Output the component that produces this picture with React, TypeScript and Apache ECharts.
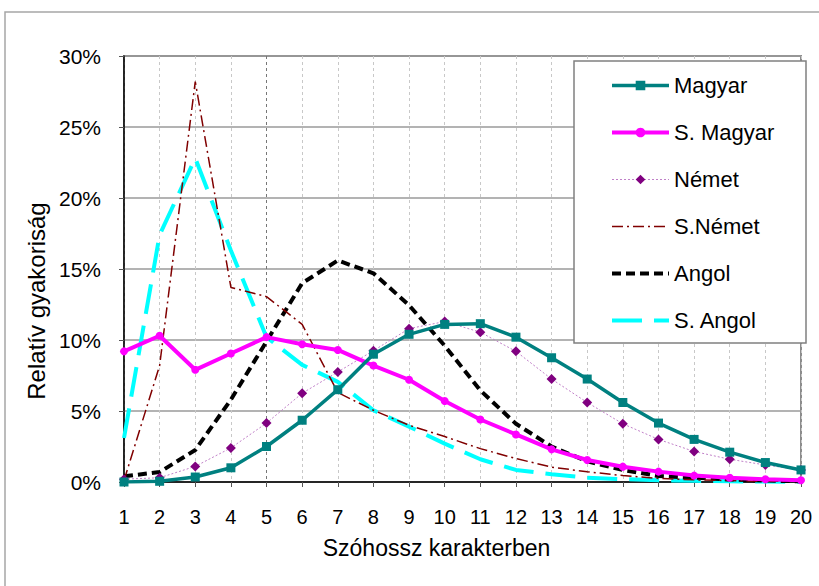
import React, { useEffect, useRef } from "react";
import * as echarts from "echarts";

// Word length in characters
const lengths = ["1", "2", "3", "4", "5", "6", "7", "8", "9", "10", "11", "12", "13", "14", "15", "16", "17", "18", "19", "20"];

// Relative frequency (%) per word length
const magyar = [0.0, 0.05, 0.35, 1.0, 2.5, 4.35, 6.5, 9.0, 10.4, 11.1, 11.15, 10.2, 8.75, 7.25, 5.6, 4.15, 3.0, 2.1, 1.37, 0.85];
const sMagyar = [9.2, 10.3, 7.9, 9.05, 10.2, 9.7, 9.3, 8.2, 7.2, 5.7, 4.4, 3.35, 2.3, 1.55, 1.08, 0.73, 0.45, 0.3, 0.19, 0.12];
const nemet = [0.2, 0.3, 1.1, 2.4, 4.15, 6.25, 7.75, 9.25, 10.8, 11.3, 10.55, 9.2, 7.25, 5.6, 4.1, 3.0, 2.15, 1.6, 1.2, 0.85];
const sNemet = [0.1, 8.2, 28.2, 13.7, 13.05, 11.1, 6.3, 5.05, 4.0, 3.2, 2.35, 1.65, 1.05, 0.72, 0.45, 0.25, 0.15, 0.1, 0.05, 0.05];
const angol = [0.4, 0.7, 2.25, 5.8, 9.9, 14.0, 15.6, 14.7, 12.45, 9.6, 6.45, 4.1, 2.5, 1.45, 0.85, 0.42, 0.3, 0.18, 0.1, 0.05];
const sAngol = [3.1, 17.4, 22.8, 16.3, 10.2, 8.25, 7.05, 5.05, 3.9, 2.7, 1.6, 0.85, 0.55, 0.3, 0.2, 0.12, 0.08, 0.05, 0.03, 0.02];

const yTicks = { min: 0, max: 30, interval: 5 };

const FONT = "'Liberation Sans', Arial, sans-serif";

export default function App() {
  const ref = useRef<HTMLDivElement>(null);

  useEffect(() => {
    if (!ref.current) return;
    const chart = echarts.init(ref.current, null, { renderer: "svg" });

    const vGridColors = lengths.map((_, i) => (i === 4 ? "#777777" : "#c8c8c8"));
    // line-only series: hide the legend's marker, keep its line sample
    const noMarker = { itemStyle: { opacity: 0 } };

    chart.setOption({
      animation: false,
      backgroundColor: "#ffffff",
      textStyle: { fontFamily: FONT, color: "#000" },
      grid: {
        left: 124,
        right: 18,
        top: 56,
        bottom: 104,
        show: true,
        borderColor: "#8c8c8c",
        borderWidth: 2,
        backgroundColor: "transparent",
      },
      graphic: [
        {
          type: "rect",
          shape: { x: 5, y: 12, width: 830, height: 600 },
          style: { fill: "none", stroke: "#a6a6a6", lineWidth: 1.5 },
          silent: true,
          z: -1,
        },
        {
          type: "rect",
          shape: { x: 574, y: 61, width: 232, height: 282 },
          style: { fill: "#ffffff", stroke: "#808080", lineWidth: 1.5 },
          silent: true,
          z: 50,
        },
      ],
      legend: {
        orient: "vertical",
        left: 610,
        top: 73,
        padding: 0,
        itemWidth: 57,
        itemHeight: 12,
        itemGap: 22,
        z: 60,
        textStyle: { fontFamily: FONT, fontSize: 22, color: "#000", lineHeight: 25 },
        lineStyle: { width: "inherit", type: "inherit" },
        data: [
          { name: "Magyar" },
          { name: "S. Magyar" },
          { name: "Német" },
          { name: "S.Német", ...noMarker },
          { name: "Angol", ...noMarker },
          { name: "S. Angol", ...noMarker },
        ],
      },
      xAxis: {
        type: "category",
        data: lengths,
        boundaryGap: false,
        name: "Szóhossz karakterben",
        nameLocation: "middle",
        nameGap: 54,
        nameTextStyle: { fontFamily: FONT, fontSize: 23, color: "#000", padding: [0, 52, 0, 0] },
        axisLine: { lineStyle: { color: "#000", width: 1.5 } },
        axisTick: { show: true, length: 5, interval: 0, lineStyle: { color: "#555" } },
        axisLabel: { fontFamily: FONT, fontSize: 20, color: "#000", margin: 25, interval: 0 },
        splitLine: {
          show: true,
          interval: 0,
          lineStyle: { color: vGridColors, type: [3, 3], width: 1 },
        },
      },
      yAxis: {
        type: "value",
        min: yTicks.min,
        max: yTicks.max,
        interval: yTicks.interval,
        name: "Relatív gyakoriság",
        nameLocation: "middle",
        nameGap: 71,
        nameTextStyle: { fontFamily: FONT, fontSize: 24, color: "#000", padding: [0, 64, 0, 0] },
        axisLine: { show: true, lineStyle: { color: "#000", width: 1.5 } },
        axisTick: { show: true, length: 5, lineStyle: { color: "#555" } },
        axisLabel: {
          fontFamily: FONT,
          fontSize: 21,
          color: "#000",
          margin: 23,
          formatter: "{value}%",
        },
        splitLine: { show: true, lineStyle: { color: "#9a9a9a", width: 1.5 } },
      },
      series: [
        {
          name: "S. Angol",
          type: "line",
          data: sAngol,
          symbol: "none",
          lineStyle: { color: "#00ffff", width: 4, type: [30, 12] },
          itemStyle: { color: "#00ffff" },
          z: 2,
        },
        {
          name: "Angol",
          type: "line",
          data: angol,
          symbol: "none",
          lineStyle: { color: "#000000", width: 4, type: [9, 5] },
          itemStyle: { color: "#000000" },
          z: 3,
        },
        {
          name: "S.Német",
          type: "line",
          data: sNemet,
          symbol: "none",
          lineStyle: { color: "#800000", width: 1.5, type: [11, 4, 2, 4] },
          itemStyle: { color: "#800000" },
          z: 4,
        },
        {
          name: "Német",
          type: "line",
          data: nemet,
          symbol: "diamond",
          symbolSize: 10,
          lineStyle: { color: "#c080c8", width: 1, type: [2, 2] },
          itemStyle: { color: "#800080" },
          z: 5,
        },
        {
          name: "S. Magyar",
          type: "line",
          data: sMagyar,
          symbol: "circle",
          symbolSize: 8,
          lineStyle: { color: "#ff00ff", width: 4 },
          itemStyle: { color: "#ff00ff" },
          z: 6,
        },
        {
          name: "Magyar",
          type: "line",
          data: magyar,
          symbol: "rect",
          symbolSize: 9,
          lineStyle: { color: "#008080", width: 3.5 },
          itemStyle: { color: "#008080" },
          z: 7,
        },
      ],
    });

    return () => chart.dispose();
  }, []);

  return <div ref={ref} style={{ width: 819, height: 586, position: "absolute", left: 0, top: 0 }} />;
}
